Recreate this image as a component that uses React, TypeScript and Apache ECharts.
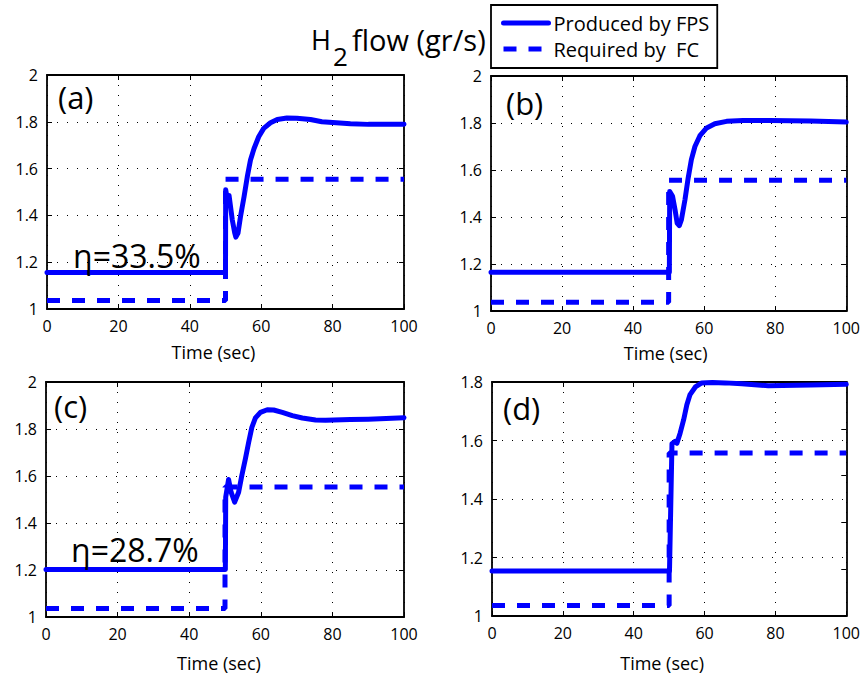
import React, { useEffect, useRef } from 'react';
import * as echarts from 'echarts';

const FONT = '"Open Sans", sans-serif';

// panel labels
const panelLabels = ['(a)', '(b)', '(c)', '(d)'];
const etaLabels = ['η=33.5%', '', 'η=28.7%', ''];
const legendNames = ['Produced by FPS', 'Required by  FC'];

// Panel (a) - produced by FPS
const timeA = [0, 50, 50.05, 50.5, 51, 51.9, 52.6, 52.9, 53.5, 54.2, 55.2, 56.1, 57, 58, 59.3, 60.7, 62.6, 64.5, 67.2, 70, 73.8, 77, 80, 85, 90, 95, 100];
const fpsA = [1.156, 1.156, 1.51, 1.47, 1.485, 1.381, 1.324, 1.307, 1.324, 1.395, 1.48, 1.565, 1.637, 1.686, 1.736, 1.772, 1.796, 1.81, 1.816, 1.815, 1.81, 1.8, 1.797, 1.792, 1.789, 1.789, 1.79];

// Panel (b)
const timeB = [0, 50.2, 50.3, 51.1, 51.8, 52.4, 53, 53.6, 54.6, 55.5, 56.4, 57.4, 58.8, 60.7, 63, 66.3, 70.9, 78.4, 90, 100];
const fpsB = [1.165, 1.165, 1.509, 1.488, 1.431, 1.374, 1.363, 1.389, 1.474, 1.566, 1.644, 1.7, 1.746, 1.779, 1.797, 1.807, 1.811, 1.811, 1.808, 1.804];

// Panel (c)
const timeC = [0, 50.1, 50.2, 51.0, 51.7, 52.7, 53.8, 54.7, 55.7, 56.6, 57.5, 58.5, 59.9, 61.8, 63.6, 66, 68.8, 71.6, 75.3, 78.1, 85, 90, 95, 100];
const fpsC = [1.202, 1.202, 1.51, 1.585, 1.531, 1.489, 1.531, 1.602, 1.673, 1.743, 1.807, 1.847, 1.871, 1.882, 1.881, 1.871, 1.857, 1.847, 1.838, 1.837, 1.84, 1.842, 1.845, 1.848];

// Panel (d)
const timeD = [0, 50.1, 50.8, 51.7, 52.2, 53.1, 54.1, 55.0, 55.9, 57.4, 59.2, 62.2, 65.8, 70.5, 78, 90, 100];
const fpsD = [1.154, 1.154, 1.589, 1.597, 1.591, 1.625, 1.671, 1.722, 1.757, 1.783, 1.797, 1.798, 1.797, 1.794, 1.787, 1.79, 1.792];

// Required by FC (step at t = 50)
const timeReq = [0, 50, 50, 100];
const reqA = [1.036, 1.036, 1.555, 1.555];
const reqB = [1.037, 1.037, 1.556, 1.556];
const reqC = [1.036, 1.036, 1.553, 1.553];
const reqD = [1.036, 1.036, 1.557, 1.557];

const yMaxes = [2, 2, 2, 1.8];
const xMin = 0;
const xMax = 100;
const xInterval = 20;
const yMin = 1;
const yInterval = 0.2;

const grids = [
  { left: 47, top: 75, width: 357, height: 234 },
  { left: 491, top: 76, width: 358, height: 235 },
  { left: 46, top: 382, width: 358, height: 235 },
  { left: 492, top: 382, width: 360, height: 234 },
];
const nameGaps = [34, 33, 37, 38];
const nameShift = [24, 6, 12, 14];

const zip = (t: number[], v: number[]) => t.map((x, i) => [x, v[i]]);

export default function App() {
  const ref = useRef<HTMLDivElement>(null);
  useEffect(() => {
    if (!ref.current) return;
    const chart = echarts.init(ref.current, null, { renderer: 'svg' });
    const fpsData = [zip(timeA, fpsA), zip(timeB, fpsB), zip(timeC, fpsC), zip(timeD, fpsD)];
    const reqData = [zip(timeReq, reqA), zip(timeReq, reqB), zip(timeReq, reqC), zip(timeReq, reqD)];

    const tick = { inside: true, length: 5, lineStyle: { color: '#000', width: 1 } };
    const axisLine = { show: true, onZero: false, lineStyle: { color: '#000', width: 1.8 } };
    const split = { show: true, lineStyle: { color: '#000', width: 1, type: [1, 9] as any } };

    const xAxis: any[] = [];
    const yAxis: any[] = [];
    const series: any[] = [];
    grids.forEach((g, i) => {
      xAxis.push({
        type: 'value', gridIndex: i, position: 'bottom', min: xMin, max: xMax, interval: xInterval,
        axisLine, axisTick: tick, splitLine: split,
        axisLabel: { color: '#000', fontSize: 16, fontFamily: FONT, margin: 9 },
        name: 'Time (sec)', nameLocation: 'middle', nameGap: nameGaps[i],
        nameTextStyle: { color: '#000', fontSize: 18, fontFamily: FONT, padding: [0, nameShift[i], 0, 0] },
      });
      xAxis.push({
        type: 'value', gridIndex: i, position: 'top', min: xMin, max: xMax, interval: xInterval,
        axisLine, axisTick: tick, splitLine: { show: false }, axisLabel: { show: false },
      });
      yAxis.push({
        type: 'value', gridIndex: i, position: 'left', min: yMin, max: yMaxes[i], interval: yInterval,
        axisLine, axisTick: tick, splitLine: split,
        axisLabel: { color: '#000', fontSize: 16, fontFamily: FONT, margin: 9 },
      });
      yAxis.push(
        i === 3
          ? {
              type: 'value', gridIndex: i, position: 'right', min: 0, max: 5, interval: 1,
              axisLine, axisTick: tick, splitLine: { show: false }, axisLabel: { show: false },
            }
          : {
              type: 'value', gridIndex: i, position: 'right', min: yMin, max: yMaxes[i], interval: yInterval,
              axisLine, axisTick: tick, splitLine: { show: false }, axisLabel: { show: false },
            }
      );
      series.push({
        name: legendNames[0], type: 'line', xAxisIndex: 2 * i, yAxisIndex: 2 * i,
        data: fpsData[i], symbol: 'none', smooth: false,
        lineStyle: { color: '#0000ff', width: 5, cap: 'round', join: 'round' },
        itemStyle: { color: '#0000ff' }, z: 3,
      });
      series.push({
        name: legendNames[1], type: 'line', xAxisIndex: 2 * i, yAxisIndex: 2 * i,
        data: reqData[i], symbol: 'none',
        lineStyle: { color: '#0000ff', width: 5, type: [13, 12] },
        itemStyle: { color: '#0000ff' }, z: 2,
      });
    });

    const labelPos = [
      [58, 97], [506, 103], [54, 406], [503, 408],
    ];
    const etaPos = [[73, 255], [0, 0], [71, 549], [0, 0]];
    const graphic: any[] = [];
    panelLabels.forEach((t, i) => {
      graphic.push({
        type: 'text', x: labelPos[i][0], y: labelPos[i][1], z: 10,
        style: { text: t, fontSize: 31, fontFamily: FONT, fill: '#000', textVerticalAlign: 'middle' },
      });
      if (etaLabels[i]) {
        graphic.push({
          type: 'text', x: etaPos[i][0], y: etaPos[i][1], z: 10,
          style: { text: etaLabels[i], fontSize: 32, fontFamily: FONT, fill: '#000', textVerticalAlign: 'middle' },
        });
      }
    });
    graphic.push(
      { type: 'text', x: 311, y: 39, style: { text: 'H', fontSize: 27, fontFamily: FONT, fill: '#000', textVerticalAlign: 'middle' } },
      { type: 'text', x: 333, y: 56, style: { text: '2', fontSize: 26, fontFamily: FONT, fill: '#000', textVerticalAlign: 'middle' } },
      { type: 'text', x: 352, y: 39, style: { text: 'flow (gr/s)', fontSize: 29, fontFamily: FONT, fill: '#000', textVerticalAlign: 'middle' } },
    );

    chart.setOption({
      animation: false,
      backgroundColor: '#fff',
      grid: grids.map((g) => ({ ...g, containLabel: false })),
      xAxis,
      yAxis,
      series,
      legend: {
        data: legendNames,
        orient: 'vertical',
        left: 491,
        top: 5,
        itemWidth: 45,
        itemHeight: 14,
        itemGap: 6,
        padding: [8, 8, 9, 10],
        borderColor: '#000',
        borderWidth: 1.8,
        backgroundColor: '#fff',
        selectedMode: false,
        itemStyle: { opacity: 0, borderWidth: 0 },
        lineStyle: { width: 5 },
        textStyle: { color: '#000', fontSize: 20, fontFamily: FONT, lineHeight: 20 },
      },
      graphic,
    });
    return () => chart.dispose();
  }, []);
  return <div ref={ref} style={{ position: 'absolute', left: 0, top: 0, width: 863, height: 677 }} />;
}
